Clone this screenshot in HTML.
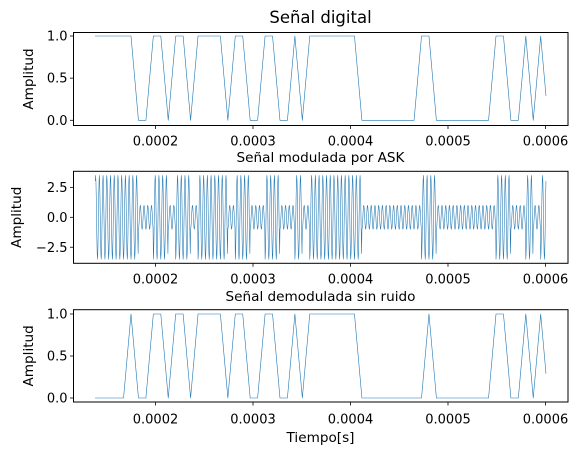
<!DOCTYPE html>
<html><head><meta charset="utf-8"><style>
body{margin:0;background:#fff}
svg{display:block;font-family:"DejaVu Sans","Liberation Sans",sans-serif}
</style></head><body>
<svg id="fig" width="582" height="455" viewBox="0 0 582 455" xmlns="http://www.w3.org/2000/svg"></svg>
<script>
// bit samples, first entry corresponds to sample index -5
const digitalBits=[1,1,1,1,1, 1,0,0,1,1,0,1,1,0,1,1,1,1,0,1,1,0,0,1,1,0,0,1,0, 1,1,1,1,1,1,1, 0,0,0,0,0,0,0,0, 1,1, 0,0,0,0,0,0,0,0, 1,1,0,0,1,0,1,0];
const demodBits=[0,0,0,0,0, 1,0,0,1,1,0,1,1,0,1,1,1,1,0,1,1,0,0,1,1,0,0,1,0, 1,1,1,1,1,1,1, 0,0,0,0,0,0,0,0, 0,1, 0,0,0,0,0,0,0,0, 1,1,0,0,1,0,1,0];
const askAmplitudes=[1.0,3.5]; // amplitude for bit 0 / bit 1
const xTicks=[0.0002,0.0003,0.0004,0.0005,0.0006];
const yTicksBin=[0,0.5,1];
const yTicksAsk=[-2.5,0,2.5];
const firstIndex=-5, t0=0.00017487, dt=7.64e-6, nStart=-4.83, nEnd=55.71;

const NS="http://www.w3.org/2000/svg";
const svg=document.getElementById('fig');
function el(tag,attrs,parent){const e=document.createElementNS(NS,tag);for(const k in attrs)e.setAttribute(k,attrs[k]);(parent||svg).appendChild(e);return e;}
const X=t=>155.5+(t-0.0002)*975000;
const L=73.5,R=568;
const panels=[
 {top:32.5,bot:125.5,y:v=>120.3-v*84.3,ticks:yTicksBin,fmt:v=>v.toFixed(1),name:'digital',ylx:28,xt:141},
 {top:171.3,bot:263.3,y:v=>217.3-v*11.98,ticks:yTicksAsk,fmt:v=>(v<0?'\u22122.5':v.toFixed(1)),name:'ask',ylx:16,xt:279},
 {top:309.7,bot:402,y:v=>398-v*84,ticks:yTicksBin,fmt:v=>v.toFixed(1),name:'demod',ylx:28,xt:419}
];
function bitAt(bits,n){const i=n-firstIndex;return bits[Math.max(0,Math.min(bits.length-1,i))];}
function binPoints(bits,p){
 const pts=[];
 const val=n=>{const a=Math.floor(n),f=n-a;return bitAt(bits,a)*(1-f)+bitAt(bits,a+1)*f;};
 pts.push([X(t0+nStart*dt),p.y(val(nStart))]);
 for(let n=Math.ceil(nStart);n<=Math.floor(nEnd);n++)pts.push([X(t0+n*dt),p.y(bitAt(bits,n))]);
 pts.push([X(t0+nEnd*dt),p.y(val(nEnd))]);
 return pts;
}
function askPoints(p){
 const pts=[];const sub=24;
 for(let k=Math.ceil(nStart*sub);k<=nEnd*sub;k++){
  const n=k/sub;const a=askAmplitudes[bitAt(digitalBits,Math.floor(n))];
  const v=a*Math.sin(2*Math.PI*2*n-Math.PI/2);
  pts.push([X(t0+n*dt),p.y(v)]);
 }
 return pts;
}
panels.forEach((p,i)=>{
 const g=el('g',{});
 
 
 const pts=i===1?askPoints(p):binPoints(i===0?digitalBits:demodBits,p);
 const line=el('polyline',{points:pts.map(q=>q[0].toFixed(2)+','+q[1].toFixed(2)).join(' '),fill:'none',stroke:'#1f77b4','stroke-width':i===1?0.55:0.6,'stroke-linejoin':'round'},g);
 
 
 el('rect',{x:L,y:p.top,width:R-L,height:p.bot-p.top,fill:'none',stroke:'#000','stroke-width':1},g);
 p.ticks.forEach(v=>{
  const y=p.y(v);
  el('line',{x1:L-3.5,x2:L,y1:y,y2:y,stroke:'#000','stroke-width':0.8},g);
  const t=el('text',{x:L-6,y:y+4.5,'text-anchor':'end','font-size':13,fill:'#000'},g);
  t.textContent=p.fmt(v);
  
  
 });
 xTicks.forEach(v=>{
  const x=X(v);
  el('line',{x1:x,x2:x,y1:p.bot,y2:p.bot+3.5,stroke:'#000','stroke-width':0.8},g);
  const t=el('text',{x:x,y:p.xt+4.5,'text-anchor':'middle','font-size':13,fill:'#000'},g);
  t.textContent=v.toFixed(4);
  
  
 });
 const yl=el('text',{x:0,y:0,'text-anchor':'middle','font-size':13.6,fill:'#000',transform:`translate(${p.ylx+5},${(p.top+p.bot)/2}) rotate(-90)`},g);
 yl.textContent='Amplitud';
 
 
});
function txt(s,x,y,size,name){const t=el('text',{x:x,y:y,'text-anchor':'middle','font-size':size,fill:'#000'});t.textContent=s;
 
 }
txt('Señal digital',320.5,23,16.5,'chart-title');
txt('Señal modulada por ASK',320.5,162,13.6,'subplot-title-ask');
txt('Señal demodulada sin ruido',320.5,301,13.6,'subplot-title-demod');
txt('Tiempo[s]',320.5,442,13.6,'x-axis-title');
</script>
</body></html>
